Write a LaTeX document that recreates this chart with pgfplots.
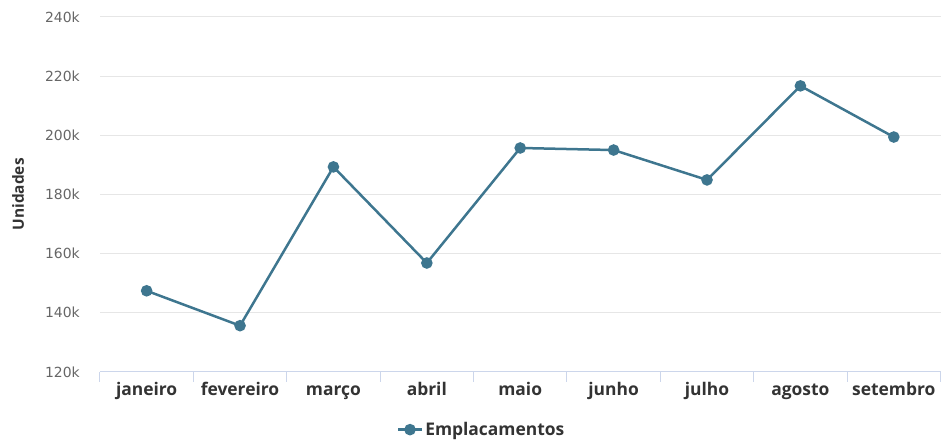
\documentclass[border=0pt]{standalone}
\usepackage{pgfplots}
\pgfplotsset{compat=1.18}
\usepackage{fontspec}
\setmainfont{Open Sans}
\newfontfamily\tickfont{DejaVu Sans}
\definecolor{serie}{RGB}{62,118,143}
\definecolor{gridc}{RGB}{230,230,230}
\definecolor{axc}{RGB}{204,214,235}
\definecolor{tickc}{RGB}{102,102,102}
\definecolor{labc}{RGB}{51,51,51}

\begin{document}
\begin{tikzpicture}
\begin{axis}[
name=ax,
scale only axis,
width=841bp, height=355bp,
xmin=-0.5, xmax=8.5,
ymin=120, ymax=240,
ytick={120,140,...,240},
yticklabels={120k,140k,160k,180k,200k,220k,240k},
xtick={0,...,8},
xticklabels={janeiro,fevereiro,março,abril,maio,junho,julho,agosto,setembro},
minor xtick={-0.5,0.5,...,8.5},
axis lines*=left,
y axis line style={draw=none},
x axis line style={draw=axc, line width=1bp},
major tick length=0pt,
minor tick length=10bp,
tick align=outside,
minor x tick style={draw=axc, line width=1bp},
ytick style={draw=none},
ymajorgrids,
major grid style={draw=gridc, line width=1bp},
yticklabel style={font=\tickfont\fontsize{14}{16}\selectfont, text=tickc, inner sep=0pt, xshift=-20bp},
xticklabel style={font=\bfseries\fontsize{17.5}{20}\selectfont, text=labc, text height=12bp, text depth=4bp, yshift=-8bp},
ylabel={Unidades},
ylabel style={font=\bfseries\fontsize{15.5}{18}\selectfont, text=labc, at={(axis description cs:-0.0975,0.5)}, anchor=center},
legend style={at={(axis description cs:0.454,-0.163)}, anchor=center, draw=none,
  font=\bfseries\fontsize{17.5}{20}\selectfont, text=labc},
legend image code/.code={
  \draw[#1, line width=2.5bp] (0bp,0bp) -- (24bp,0bp);
  \fill[serie] (12bp,0bp) circle (4.5bp);
},
clip=false,
]
\addplot[color=serie, line width=2.5bp, mark=*, mark size=4.5bp] coordinates {
(0,147.4) (1,135.6) (2,189.3) (3,156.8) (4,195.7) (5,195.0) (6,184.9) (7,216.7) (8,199.4)
};
\legend{Emplacamentos}
\end{axis}
\useasboundingbox ([xshift=-100bp,yshift=17bp]ax.north west) rectangle ([yshift=-65bp]ax.south east);
\end{tikzpicture}
\end{document}
